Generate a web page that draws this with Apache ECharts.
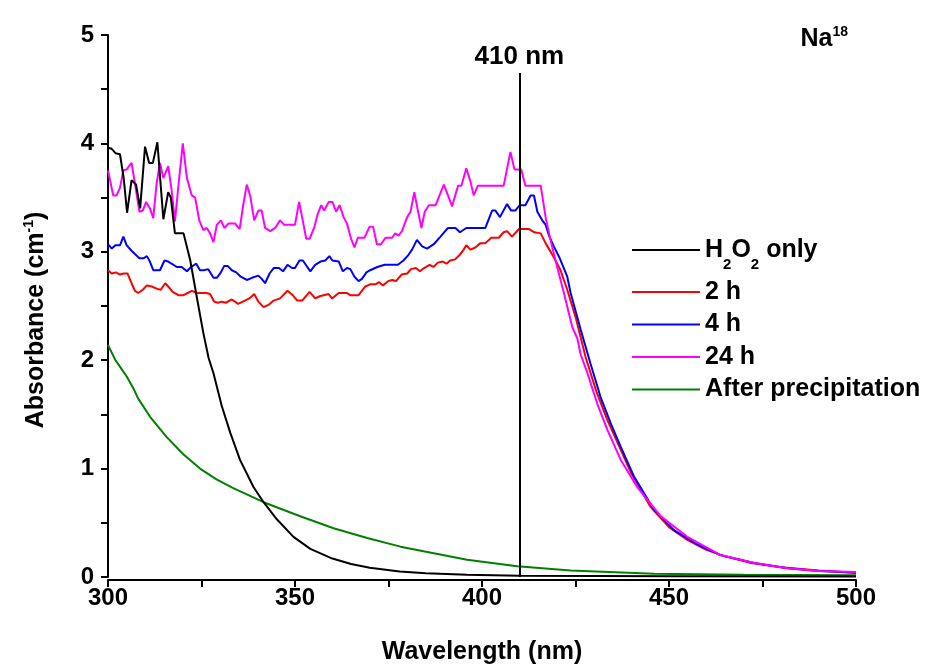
<!DOCTYPE html>
<html>
<head>
<meta charset="utf-8">
<script src="https://cdn.jsdelivr.net/npm/echarts@6/dist/echarts.min.js"></script>
<style>
html,body{margin:0;padding:0;background:#fff;}
#chart{width:928px;height:668px;}
</style>
</head>
<body>
<div id="chart"></div>
<script>
// ---- data ----
const xTickLabels = [300, 350, 400, 450, 500];
const yTickLabels = [0, 1, 2, 3, 4, 5];
const seriesNames = ['H2O2 only', '2 h', '4 h', '24 h', 'After precipitation'];

const h2o2Wl  = [300,301,302,303.2,304.2,305.1,306.3,307.5,308.6,309.9,311,312,313.2,314.8,316.1,316.8,317.9,320.2,322,323.7,325.5,326.9,328.2,330.4,332.7,335.3,338.9,341.6,345.2,349.6,354.1,360,365,370,378,385,396,410,450,500];
const h2o2Abs = [3.96,3.95,3.91,3.90,3.68,3.36,3.66,3.62,3.40,3.97,3.82,3.82,4.01,3.30,3.55,3.50,3.17,3.17,2.92,2.59,2.25,2.02,1.88,1.58,1.33,1.08,0.83,0.69,0.53,0.37,0.26,0.17,0.12,0.085,0.05,0.035,0.02,0.012,0.008,0.005];

const h2Wl  = [300,301,302.1,303.2,304.3,305.2,306.3,307.2,308.1,309.3,310.4,311.7,313,314.1,315.3,316.1,317.3,318.8,320.2,321.3,322.4,323.8,325.1,326.3,327.3,328.4,329.4,330.4,331.5,333.1,334.8,336.6,337.8,339.1,340.2,341.6,342.9,344.3,346,348,349.4,350.6,351.9,353.9,355.4,356.6,359,359.9,361.7,363.9,364.8,367,368.8,370.1,371.5,372.5,373.5,375,376,377,378.5,380,381,382.3,383.4,384.5,386,387,388.2,389.5,390.5,391.5,392.8,394,395.1,395.8,396.9,398.2,399.6,400.9,402.5,404.5,405.8,406.7,408,409.9,412.6,414,415.7,417,419.2,421,422.8,425,427.7,430.5,433.5,436.5,440,445,450,455,460,465,472,480,490,500];
const h2Abs = [2.83,2.80,2.81,2.79,2.80,2.80,2.71,2.64,2.62,2.65,2.69,2.68,2.66,2.65,2.71,2.68,2.63,2.60,2.60,2.62,2.64,2.62,2.62,2.62,2.61,2.54,2.53,2.54,2.53,2.56,2.52,2.55,2.57,2.61,2.54,2.49,2.51,2.55,2.57,2.64,2.60,2.55,2.55,2.63,2.57,2.59,2.61,2.57,2.62,2.62,2.60,2.60,2.68,2.70,2.70,2.72,2.69,2.73,2.74,2.73,2.79,2.80,2.84,2.85,2.82,2.85,2.88,2.86,2.90,2.91,2.89,2.92,2.93,2.97,3.02,3.06,3.02,3.04,3.08,3.08,3.13,3.13,3.18,3.19,3.14,3.21,3.21,3.18,3.17,3.08,2.95,2.83,2.65,2.40,2.03,1.72,1.45,1.22,0.95,0.65,0.46,0.34,0.25,0.19,0.13,0.09,0.06,0.04];

const h4Wl  = [300,301,302,303.2,304.1,305,306.3,307.2,308.4,309.5,310.4,311.2,312.1,313.9,315.1,316.1,317,318.4,319.7,321.1,322.2,323.6,324.6,325.6,326.8,328.2,329.1,330,331.1,332,333.1,334.3,335.5,337.1,338.5,340.2,341.1,342,343.2,344.3,345.7,346.8,348,349.2,350,351.2,352.1,354.1,355.4,356.8,358.1,359.2,360,361.7,362.8,363.9,364.8,365.9,367,367.9,369.1,370.1,372,374,376,377.5,379,380.3,381.3,382.6,384,385.3,387.1,388.9,390.9,392.9,394.1,395.8,400.9,402.7,403.6,404.8,406.7,407.8,408.9,410.1,411.6,413,413.9,414.8,416.1,417,417.9,419.2,420.8,422.8,423.7,426.4,429,431.7,434.4,437.1,440.6,446,451.4,457.6,463.9,472.8,481.7,490,500];
const h4Abs = [3.07,3.03,3.06,3.06,3.14,3.06,3.01,2.98,2.94,2.94,2.96,2.91,2.83,2.83,2.92,2.91,2.89,2.86,2.86,2.82,2.86,2.89,2.83,2.83,2.84,2.76,2.76,2.80,2.87,2.87,2.83,2.81,2.77,2.74,2.76,2.78,2.75,2.71,2.80,2.85,2.85,2.82,2.88,2.85,2.85,2.92,2.92,2.82,2.88,2.91,2.92,2.96,2.92,2.91,2.82,2.85,2.84,2.77,2.73,2.75,2.81,2.83,2.86,2.88,2.88,2.88,2.92,2.97,3.02,3.11,3.05,3.03,3.07,3.14,3.22,3.22,3.18,3.22,3.22,3.38,3.38,3.32,3.44,3.38,3.38,3.43,3.43,3.52,3.52,3.37,3.29,3.25,3.15,3.05,2.94,2.77,2.62,2.28,1.97,1.66,1.42,1.20,0.93,0.62,0.43,0.30,0.20,0.13,0.08,0.055,0.04];

const h24Wl  = [300,301.4,302.3,303.2,304.1,305,306.3,307.2,308.4,309.3,310.2,311.2,312.1,313,313.9,314.8,316.1,317,317.9,318.8,320,321.1,322.4,323.3,324.4,325.5,326.4,327.3,328.2,329.1,330.2,331.1,332.2,334,335.2,336.1,337.1,338,339.1,340.2,341.1,342,343.4,344.7,346,347.1,350,351.1,351.9,353,353.9,355.2,356,357,357.8,359,360,361,361.9,363,363.9,365,365.9,366.8,368.6,369.9,370.9,371.9,373,374.2,376,376.8,377.7,378.6,380,380.9,381.9,382.8,383.8,384.7,385.8,387.6,389.8,390.9,392,393.6,394.5,395.8,396.9,397.8,398.9,405.8,407.6,408.7,410.5,411.6,415.7,417,418.3,420.1,421.9,424.1,425.5,426.4,428.2,430.8,433.5,437.1,441.5,447.8,454.9,463.9,472.8,481.7,490,500];
const h24Abs = [3.75,3.52,3.52,3.59,3.75,3.76,3.82,3.63,3.37,3.38,3.46,3.40,3.31,3.63,3.82,3.68,3.79,3.57,3.28,3.60,4.00,3.68,3.52,3.50,3.29,3.20,3.22,3.17,3.09,3.25,3.29,3.22,3.26,3.26,3.21,3.42,3.62,3.52,3.29,3.38,3.38,3.22,3.19,3.22,3.29,3.25,3.25,3.46,3.32,3.12,3.12,3.23,3.34,3.43,3.38,3.46,3.46,3.37,3.43,3.32,3.26,3.12,3.04,3.13,3.13,3.23,3.23,3.07,3.07,3.13,3.13,3.17,3.15,3.19,3.32,3.37,3.55,3.39,3.22,3.37,3.43,3.43,3.62,3.52,3.42,3.61,3.61,3.77,3.65,3.52,3.61,3.61,3.92,3.76,3.76,3.61,3.61,3.32,3.11,2.86,2.62,2.31,2.20,2.05,1.88,1.60,1.36,1.08,0.83,0.56,0.37,0.20,0.13,0.08,0.055,0.045];

const afterWl  = [300,301,302,303,305,306.8,308,311.2,315.7,320.2,324.6,329,333.5,341.6,351.4,360.3,369.3,378.2,387.1,396,409.4,423.7,446,470,500];
const afterAbs = [2.14,2.07,2.00,1.95,1.85,1.74,1.65,1.48,1.29,1.13,1.00,0.90,0.82,0.69,0.56,0.45,0.36,0.28,0.22,0.16,0.10,0.06,0.03,0.02,0.015];

const markerWl = 410;
const markerTop = 4.65;

// ---- chart ----
const FONT = 'Liberation Sans, Arial, sans-serif';
const colors = ['#000000', '#ff0000', '#0000ff', '#ff00ff', '#008000'];
function pairs(xs, ys) { return xs.map((x, i) => [x, ys[i]]); }
const dataSets = [pairs(h2o2Wl, h2o2Abs), pairs(h2Wl, h2Abs), pairs(h4Wl, h4Abs), pairs(h24Wl, h24Abs), pairs(afterWl, afterAbs)];

const chart = echarts.init(document.getElementById('chart'), null, {renderer: 'canvas'});

const series = seriesNames.map((name, i) => ({
  name: name,
  type: 'line',
  data: dataSets[i],
  showSymbol: false,
  symbol: 'none',
  lineStyle: {width: 2, color: colors[i]},
  itemStyle: {color: colors[i]},
  z: i === 0 ? 3 : 2,
  animation: false
}));
series[0].markLine = {
  silent: true,
  symbol: ['none', 'none'],
  animation: false,
  lineStyle: {color: '#000', width: 2, type: 'solid'},
  label: {
    show: true, position: 'end', formatter: markerWl + ' nm',
    fontFamily: FONT, fontWeight: 'bold', fontSize: 26, color: '#000', distance: 3
  },
  data: [[{coord: [markerWl, 0]}, {coord: [markerWl, markerTop]}]]
};

const txt = {fontFamily: FONT, fontWeight: 'bold', color: '#000'};

const option = {
  backgroundColor: '#ffffff',
  animation: false,
  title: {
    text: '{n|Na}{s|18}',
    right: 75,
    top: 20,
    textStyle: {
      rich: {
        n: Object.assign({fontSize: 25, lineHeight: 28}, txt),
        s: Object.assign({fontSize: 14, lineHeight: 14, verticalAlign: 'top'}, txt)
      }
    }
  },
  grid: {left: 108, right: 72, top: 35, bottom: 91, containLabel: false, outerBoundsMode: 'none'},
  legend: {
    orient: 'vertical',
    left: 627,
    top: 223,
    icon: 'rect',
    itemWidth: 68,
    itemHeight: 2,
    itemGap: 7.5,
    selectedMode: false,
    data: seriesNames,
    formatter: function (name) {
      if (name === 'H2O2 only') return '{b|H}{sub|2}{b|O}{sub|2}{b| only}{pad| }';
      return '{b|' + name + '}';
    },
    textStyle: Object.assign({
      fontSize: 25,
      lineHeight: 20,
      rich: {
        b: Object.assign({fontSize: 25, lineHeight: 20, verticalAlign: 'middle'}, txt),
        sub: Object.assign({fontSize: 15, lineHeight: 14, verticalAlign: 'bottom'}, txt),
        pad: Object.assign({fontSize: 2, lineHeight: 44, verticalAlign: 'middle'}, txt)
      }
    }, txt)
  },
  xAxis: {
    type: 'value',
    min: 300, max: 500, interval: 25,
    offset: 3,
    name: 'Wavelength (nm)',
    nameLocation: 'middle',
    nameGap: 60,
    nameTextStyle: Object.assign({fontSize: 25}, txt),
    axisLine: {show: true, onZero: false, lineStyle: {color: '#000', width: 2}},
    axisTick: {show: true, inside: false, length: 7, lineStyle: {color: '#000', width: 2}},
    axisLabel: Object.assign({
      margin: 6, fontSize: 24,
      formatter: v => xTickLabels.includes(v) ? String(v) : ''
    }, txt),
    splitLine: {show: false}
  },
  yAxis: {
    type: 'value',
    min: 0, max: 5, interval: 0.5,
    name: '{t|Absorbance (cm}{s|-1}{t|)}',
    nameLocation: 'middle',
    nameGap: 58,
    nameTextStyle: {
      padding: [0, 28, 0, 0],
      rich: {
        t: Object.assign({fontSize: 25, lineHeight: 28}, txt),
        s: Object.assign({fontSize: 14, lineHeight: 14, verticalAlign: 'top'}, txt)
      }
    },
    axisLine: {show: true, onZero: false, lineStyle: {color: '#000', width: 2}},
    axisTick: {show: true, inside: false, length: 7, lineStyle: {color: '#000', width: 2}},
    axisLabel: Object.assign({
      margin: 14, fontSize: 24,
      formatter: v => yTickLabels.includes(v) ? String(v) : ''
    }, txt),
    splitLine: {show: false}
  },
  series: series
};
chart.setOption(option);
</script>
</body>
</html>
